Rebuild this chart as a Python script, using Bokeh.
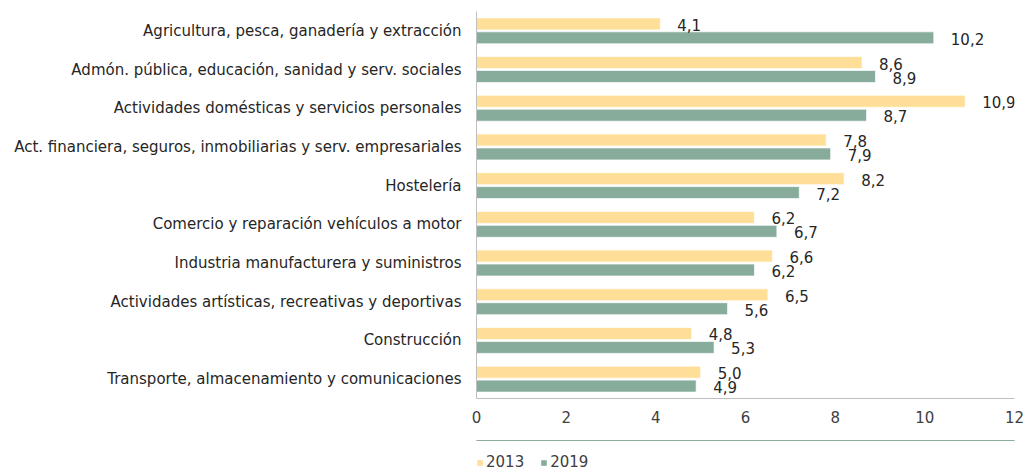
from bokeh.plotting import figure
from bokeh.layouts import column
from bokeh.models import ColumnDataSource, Range1d, FactorRange, Legend, LegendItem, LabelSet
from bokeh.transform import dodge
from bokeh.core.properties import value
from bokeh.embed import file_html
from bokeh.resources import INLINE

categories = [
    "Agricultura, pesca, ganadería y extracción",
    "Admón. pública, educación, sanidad y serv. sociales",
    "Actividades domésticas y servicios personales",
    "Act. financiera, seguros, inmobiliarias y serv. empresariales",
    "Hostelería",
    "Comercio y reparación vehículos a motor",
    "Industria manufacturera y suministros",
    "Actividades artísticas, recreativas y deportivas",
    "Construcción",
    "Transporte, almacenamiento y comunicaciones",
]
values_2013 = [4.1, 8.6, 10.9, 7.8, 8.2, 6.2, 6.6, 6.5, 4.8, 5.0]
values_2019 = [10.2, 8.9, 8.7, 7.9, 7.2, 6.7, 6.2, 5.6, 5.3, 4.9]
x_ticks = [0, 2, 4, 6, 8, 10, 12]
series_names = ["2013", "2019"]

FONT = "DejaVu Sans"
FS = "15px"
C2013 = "#FFDE98"
C2019 = "#87AC9B"

def fmt(v):
    return f"{v:.1f}".replace(".", ",")

src = ColumnDataSource(dict(
    cat=categories,
    v13=values_2013,
    v19=values_2019,
    l13=[fmt(v) for v in values_2013],
    l19=[fmt(v) for v in values_2019],
))

p = figure(
    width=1026, height=440,
    y_range=FactorRange(*list(reversed(categories)), range_padding=0),
    x_range=Range1d(0, 12),
    output_backend="svg", toolbar_location=None,
    min_border_left=476, min_border_right=12, min_border_top=11, min_border_bottom=42,
)
p.outline_line_color = None
p.grid.visible = False
p.background_fill_color = "white"
p.border_fill_color = "white"

off = 0.18
h = 0.31
r13 = p.hbar(y=dodge("cat", off, range=p.y_range), right="v13", left=0, height=h,
             source=src, fill_color=C2013, line_color="white", line_width=0.7)
r19 = p.hbar(y=dodge("cat", -off, range=p.y_range), right="v19", left=0, height=h,
             source=src, fill_color=C2019, line_color="white", line_width=0.7)

for col, lab, d in (("v13", "l13", off), ("v19", "l19", -off)):
    p.add_layout(LabelSet(x=col, y=dodge("cat", d, range=p.y_range), text=lab, source=src,
                          x_offset=17, y_offset=-1, text_baseline="middle", text_align="left",
                          text_font=value(FONT), text_font_size=FS, text_color="#262626"))

p.xaxis.ticker = x_ticks
p.xaxis.axis_line_color = "#BFBFBF"
p.xaxis.major_tick_line_color = None
p.xaxis.minor_tick_line_color = None
p.xaxis.major_tick_out = 0
p.xaxis.major_tick_in = 0
p.xaxis.minor_tick_out = 0
p.xaxis.major_label_standoff = 12
p.xaxis.major_label_text_font = FONT
p.xaxis.major_label_text_font_size = FS
p.xaxis.major_label_text_color = "#404040"

p.yaxis.axis_line_color = "#BFBFBF"
p.yaxis.major_tick_line_color = None
p.yaxis.minor_tick_line_color = None
p.yaxis.major_tick_out = 0
p.yaxis.major_tick_in = 0
p.yaxis.major_label_standoff = 15
p.yaxis.major_label_text_font = FONT
p.yaxis.major_label_text_font_size = FS
p.yaxis.major_label_text_color = "#262626"

# legend strip (helper bars lie outside this strip's visible range; only legend shows)
pl = figure(width=1026, height=31, output_backend="svg", toolbar_location=None,
            x_axis_type=None, y_axis_type=None, x_range=Range1d(0, 1), y_range=Range1d(0, 1),
            min_border=0, min_border_left=0, min_border_right=0, min_border_top=0, min_border_bottom=0)
pl.outline_line_color = None
pl.grid.visible = False
d13 = pl.hbar(y="v13", right="v13", left=0, height=0.1, source=src,
              fill_color=C2013, line_color=None)
d19 = pl.hbar(y="v19", right="v19", left=0, height=0.1, source=src,
              fill_color=C2019, line_color=None)

legend = Legend(items=[LegendItem(label=series_names[0], renderers=[d13]),
                       LegendItem(label=series_names[1], renderers=[d19])],
                orientation="horizontal", location=(0, 0),
                glyph_width=7, glyph_height=7, label_height=16, label_standoff=3, spacing=16,
                label_text_font=FONT, label_text_font_size=FS, label_text_color="#404040",
                background_fill_alpha=0, border_line_color=None, padding=0, margin=0)
pl.add_layout(legend, "center")

open("out.html", "w").write(file_html(column(p, pl, spacing=0), INLINE))
